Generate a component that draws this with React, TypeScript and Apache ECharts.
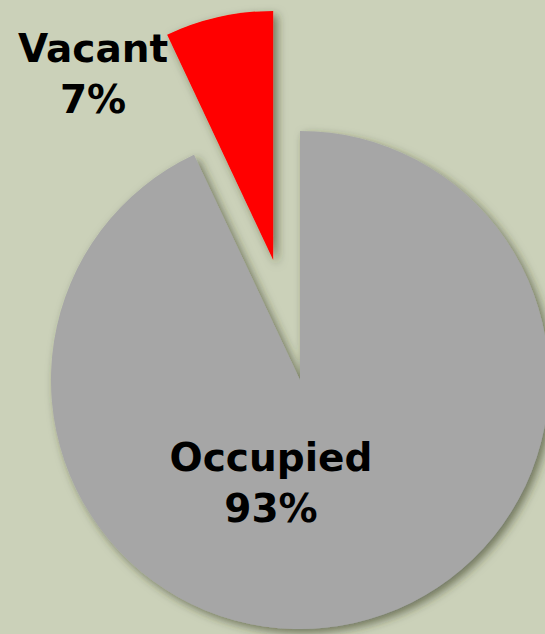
import React, { useEffect, useRef } from "react";
import * as echarts from "echarts";

const categories = ["Occupied", "Vacant"];
const values = [93, 7];
const colors = ["#a6a6a6", "#ff0000"];
const labelPos = [
  [271, 483],
  [93, 74],
];

export default function App() {
  const ref = useRef<HTMLDivElement>(null);
  useEffect(() => {
    document.body.style.margin = "0";
    const chart = echarts.init(ref.current!, undefined, { renderer: "svg" });
    chart.setOption({
      animation: false,
      backgroundColor: "#cbd1b9",
      graphic: categories.map((c, i) => ({
        type: "text",
        x: labelPos[i][0],
        y: labelPos[i][1],
        z: 100,
        style: {
          text: `${c}\n${values[i]}%`,
          fontFamily: "DejaVu Sans",
          fontWeight: "bold",
          fontSize: 39,
          lineHeight: 51,
          fill: "#000",
          align: "center",
          verticalAlign: "middle",
        },
      })),
      series: [
        {
          type: "pie",
          center: [300, 380],
          radius: 249,
          startAngle: 90,
          clockwise: true,
          selectedMode: "single",
          selectedOffset: 123,
          label: { show: false },
          labelLine: { show: false },
          emphasis: { disabled: true },
          itemStyle: {
            shadowBlur: 10,
            shadowOffsetX: 4,
            shadowOffsetY: 4,
            shadowColor: "rgba(50,55,30,0.6)",
          },
          data: categories.map((c, i) => ({
            name: c,
            value: values[i],
            selected: i === 1,
            itemStyle: { color: colors[i] },
          })),
        },
      ],
    });
    return () => chart.dispose();
  }, []);
  return (
    <div
      ref={ref}
      style={{ position: "fixed", left: 0, top: 0, width: 545, height: 634 }}
    />
  );
}
